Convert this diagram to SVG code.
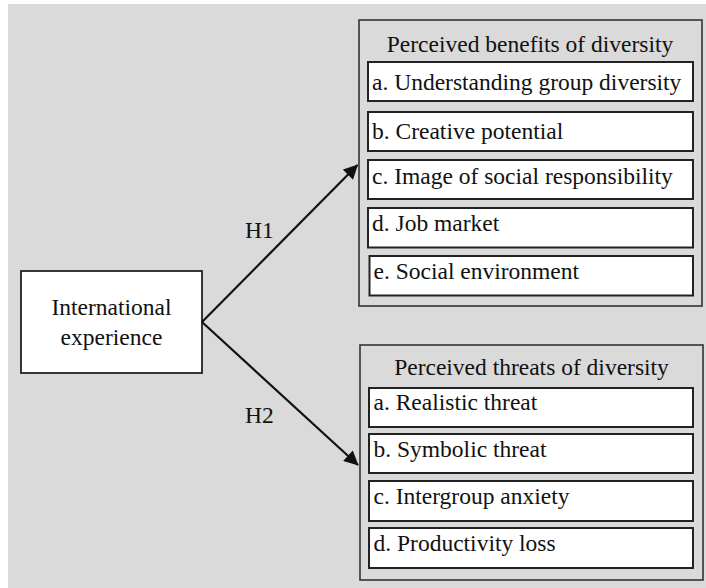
<svg xmlns="http://www.w3.org/2000/svg" width="706" height="588" viewBox="0 0 706 588">
  <style>
    text { font-family: "Liberation Serif", "Times New Roman", serif; font-size: 23.5px; fill: #111; }
    .panel { fill: #dadada; stroke: #333; stroke-width: 1.6; }
    .item { fill: #ffffff; stroke: #222; stroke-width: 2; }
    .node { fill: #ffffff; stroke: #222; stroke-width: 1.8; }
    .edge { stroke: #111; stroke-width: 2.2; fill: none; }
    .mid { text-anchor: middle; }
  </style>
  <defs>
    <marker id="arrow" viewBox="0 0 10 10" refX="9.5" refY="5" markerWidth="7" markerHeight="6.5" markerUnits="strokeWidth" orient="auto">
      <path d="M0,0 L10,5 L0,10 Z" fill="#111"/>
    </marker>
  </defs>

  <!-- backdrop -->
  <rect x="8" y="4" width="698" height="584" fill="#dadada"/>

  <!-- source construct -->
  <g id="international-experience">
    <rect class="node" x="21" y="271" width="181" height="102"/>
    <text class="mid" x="111.5" y="315">International</text>
    <text class="mid" x="111.5" y="345">experience</text>
  </g>

  <!-- benefits panel -->
  <g id="perceived-benefits">
    <rect class="panel" x="359" y="20" width="343" height="286"/>
    <text class="mid" x="530" y="52">Perceived benefits of diversity</text>
    <rect class="item" x="368" y="62" width="325" height="39"/>
    <text x="372" y="89.5">a. Understanding group diversity</text>
    <rect class="item" x="368" y="112" width="325" height="39"/>
    <text x="372" y="139">b. Creative potential</text>
    <rect class="item" x="368" y="160" width="325" height="39"/>
    <text x="372" y="183.5">c. Image of social responsibility</text>
    <rect class="item" x="368" y="208" width="325" height="39.5"/>
    <text x="372" y="231">d. Job market</text>
    <rect class="item" x="369.5" y="256" width="323.5" height="39.5"/>
    <text x="373.5" y="279">e. Social environment</text>
  </g>

  <!-- threats panel -->
  <g id="perceived-threats">
    <rect class="panel" x="360" y="345" width="343" height="235"/>
    <text class="mid" x="531.5" y="375">Perceived threats of diversity</text>
    <rect class="item" x="369" y="388" width="324" height="39"/>
    <text x="373.5" y="410">a. Realistic threat</text>
    <rect class="item" x="369" y="434" width="324" height="39"/>
    <text x="373.5" y="456.5">b. Symbolic threat</text>
    <rect class="item" x="369" y="481" width="324" height="40"/>
    <text x="373.5" y="503.5">c. Intergroup anxiety</text>
    <rect class="item" x="369" y="528" width="324" height="40"/>
    <text x="373.5" y="550.5">d. Productivity loss</text>
  </g>

  <!-- hypothesised paths -->
  <g id="connectors">
    <line class="edge" x1="202" y1="322" x2="357.5" y2="165" marker-end="url(#arrow)"/>
    <line class="edge" x1="202" y1="322" x2="358" y2="465" marker-end="url(#arrow)"/>
    <text x="245" y="238">H1</text>
    <text x="245" y="423">H2</text>
  </g>
</svg>
